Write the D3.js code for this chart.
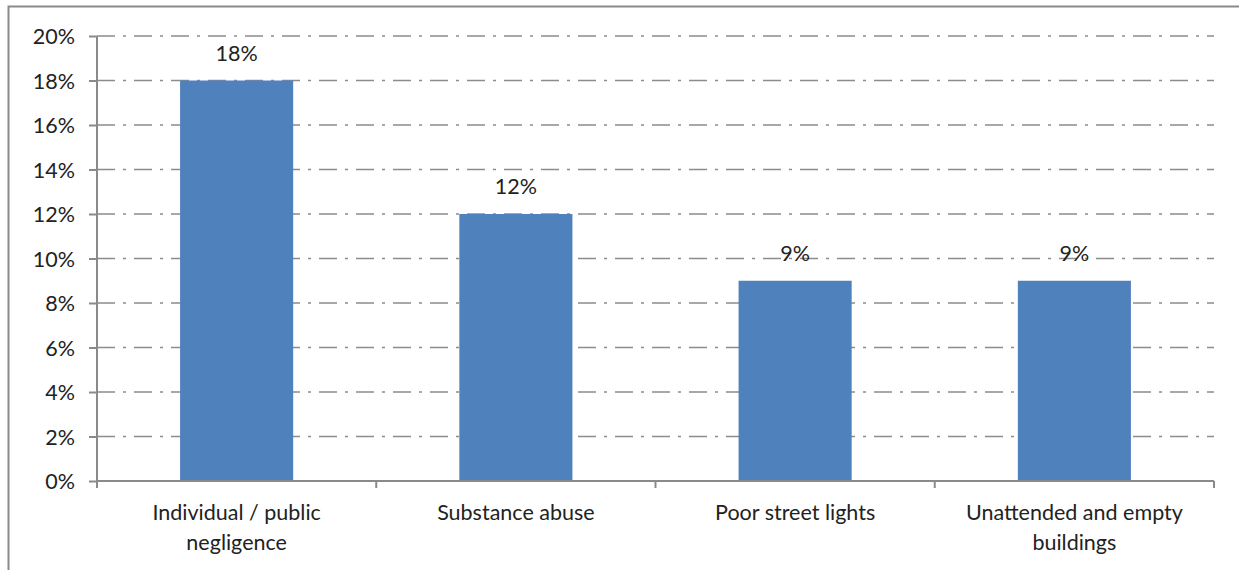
<!DOCTYPE html>
<html>
<head>
<meta charset="utf-8">
<script src="https://cdn.jsdelivr.net/npm/d3@7"></script>
<style>
  body { margin: 0; background: #fff; }
  svg text { font-family: Lato, "Open Sans", sans-serif; fill: #222; }
</style>
</head>
<body>
<script>
var categories = [["Individual / public", "negligence"], ["Substance abuse"], ["Poor street lights"], ["Unattended and empty", "buildings"]];
var values = [18, 12, 9, 9];
var yTicks = [0, 2, 4, 6, 8, 10, 12, 14, 16, 18, 20];

var chartW = 1239, chartH = 570;
var plotLeft = 97, plotRight = 1214, plotTop = 36, plotBottom = 481;
var fontSize = 21.5;

var svg = d3.select("body").append("svg")
    .attr("width", chartW)
    .attr("height", chartH);

// outer frame
svg.append("rect")
    .attr("x", 8.5).attr("y", 6.5)
    .attr("width", 1300).attr("height", 600)
    .attr("fill", "none")
    .attr("stroke", "#8a8a8a")
    .attr("stroke-width", 2);

var x = d3.scaleBand()
    .domain(d3.range(categories.length))
    .range([plotLeft, plotRight])
    .paddingInner(0.595)
    .paddingOuter(0.2975);

var y = d3.scaleLinear().domain([0, 20]).range([plotBottom, plotTop]);

// grid lines
svg.selectAll(".grid").data(yTicks.filter(function(d) { return d > 0; }))
  .enter().append("line")
    .attr("x1", plotLeft).attr("x2", plotRight)
    .attr("y1", function(d) { return y(d); })
    .attr("y2", function(d) { return y(d); })
    .attr("stroke", "#8c8c8c")
    .attr("stroke-width", 1.5)
    .attr("stroke-dasharray", "18,8,3,8");

// bars
svg.selectAll(".bar").data(values)
  .enter().append("rect")
    .attr("x", function(d, i) { return x(i); })
    .attr("y", function(d) { return y(d); })
    .attr("width", x.bandwidth())
    .attr("height", function(d) { return plotBottom - y(d); })
    .attr("fill", "#4f81bd");

// value labels
svg.selectAll(".lbl").data(values)
  .enter().append("text")
    .attr("x", function(d, i) { return x(i) + x.bandwidth() / 2; })
    .attr("y", function(d) { return y(d) - 20; })
    .attr("text-anchor", "middle")
    .attr("font-size", fontSize)
    .text(function(d) { return d + "%"; });

// y axis
var yAxis = d3.axisLeft(y).tickValues(yTicks).tickSize(8).tickPadding(14)
    .tickFormat(function(d) { return d + "%"; });
var gy = svg.append("g").attr("transform", "translate(" + plotLeft + ",0)").call(yAxis);
gy.select(".domain").attr("stroke", "#8a8a8a").attr("stroke-width", 2).attr("d", "M0," + plotTop + "V" + plotBottom);
gy.selectAll(".tick line").attr("stroke", "#8a8a8a").attr("stroke-width", 2);
gy.selectAll(".tick text").attr("font-size", fontSize).attr("font-family", "Lato, sans-serif").attr("fill", "#222").attr("dy", "0.35em");

// x axis
var xb = d3.scaleLinear().domain([0, categories.length]).range([plotLeft, plotRight]);
var gx = svg.append("g").attr("transform", "translate(0," + plotBottom + ")");
gx.append("line").attr("x1", plotLeft).attr("x2", plotRight)
    .attr("stroke", "#8a8a8a").attr("stroke-width", 2);
gx.selectAll(".xt").data(d3.range(categories.length + 1))
  .enter().append("line")
    .attr("x1", function(d) { return xb(d); })
    .attr("x2", function(d) { return xb(d); })
    .attr("y1", 0).attr("y2", 7)
    .attr("stroke", "#8a8a8a").attr("stroke-width", 2);

var cl = gx.selectAll(".cl").data(categories)
  .enter().append("text")
    .attr("text-anchor", "middle")
    .attr("font-size", fontSize)
    .attr("transform", function(d, i) { return "translate(" + (x(i) + x.bandwidth() / 2) + ",39)"; });
cl.selectAll("tspan").data(function(d) { return d; })
  .enter().append("tspan")
    .attr("x", 0)
    .attr("dy", function(d, i) { return i === 0 ? 0 : 30; })
    .text(function(d) { return d; });
</script>
</body>
</html>
